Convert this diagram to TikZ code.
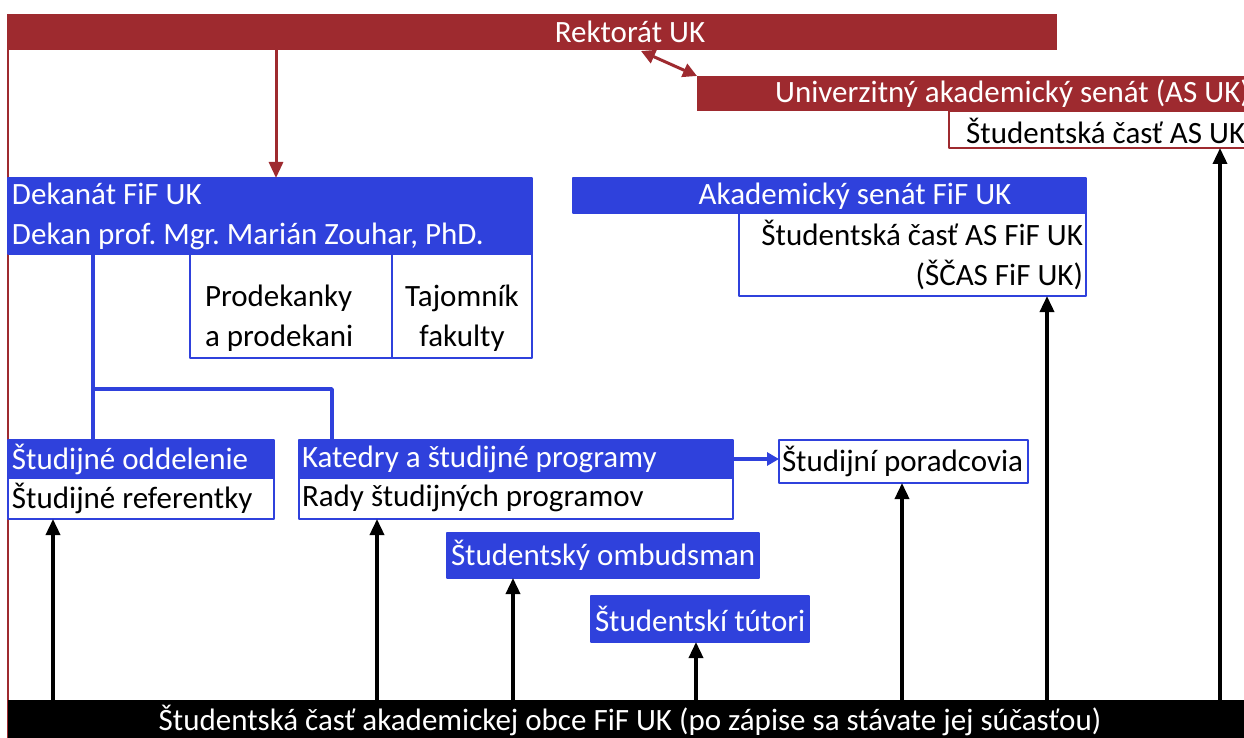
\documentclass[tikz,border=0pt]{standalone}
\usepackage{fontspec}
\setmainfont{Carlito}
\usetikzlibrary{arrows.meta}
\definecolor{ukred}{RGB}{158,42,47}
\definecolor{fifblue}{RGB}{47,65,220}
\newcommand\orgfont{\fontsize{31}{40}\selectfont\frenchspacing}
\tikzset{
	box/.style={anchor=north west, inner xsep=4pt, inner ysep=0pt, outer sep=0pt},
	redbar/.style={box, fill=ukred, text=white},
	redframe/.style={box, draw=ukred, line width=2pt, fill=white},
	bluebar/.style={box, fill=fifblue, draw=fifblue, line width=2pt, text=white, align=flush left},
	bluebox/.style={box, fill=white, draw=fifblue, line width=2pt, align=flush left},
	bartext/.style={inner sep=0pt, text=white},
	uparrow/.style={->, line width=3.5pt, black},
	blueline/.style={line width=3.5pt, fifblue},
}
\begin{document}
\begin{tikzpicture}[x=1pt, y=-1pt, font=\orgfont, line join=round, >={Triangle[width=14pt,length=16pt]}]
	\useasboundingbox (0,0) rectangle (1244,738);
	\clip (0,0) rectangle (1244,738);
	% university level
	\draw[ukred, line width=2pt] (8,14) -- (8,745);
	\node[redbar, minimum width=1049pt, minimum height=36pt] (rekt) at (8,14) {};
	\node[bartext] (rektlbl) at (630,32) {Rektorát UK};
	\node[redbar, minimum width=600pt, minimum height=35pt] (asuk) at (697,76) {};
	\node[bartext, anchor=west] (asuklbl) at (775,94) {Univerzitný akademický senát (AS UK)};
	\node[redframe, minimum width=350pt, minimum height=37pt] (studasuk) at (949,111) {};
	\node[inner sep=0pt, anchor=west] (studasuklbl) at (966,131) {Študentská časť AS UK};
	\coordinate (rektsen) at (641,51);
	\coordinate (rektdek) at (276,50);
	\draw[ukred, line width=3pt, <->, >={Triangle[width=14pt,length=14pt]}] (rektsen) -- (asuk.north west);
	
	% faculty level
	\node[bluebar, minimum width=524pt, minimum height=76pt, text width=516pt] (dekanat) at (8,178) {Dekanát FiF UK\\Dekan prof. Mgr. Marián Zouhar, PhD.};
	\draw[ukred, line width=3pt, ->] (rektdek) -- (rektdek |- dekanat.north);
	\node[bluebox, minimum width=202pt, minimum height=104pt, inner xsep=15pt, text width=172pt, text height=52pt, text depth=52pt] (prodek) at (190,254) {Prodekanky\\a prodekani};
	\node[bluebox, minimum width=140pt, minimum height=104pt, text width=132pt, align=flush center, text height=52pt, text depth=52pt] (tajom) at (prodek.north east) {Tajomník\\fakulty};
	\node[bluebar, minimum width=513pt, minimum height=35pt] (asfif) at (573,178) {};
	\node[bartext] (asfiflbl) at (855,196) {Akademický senát FiF UK};
	\node[bluebox, minimum width=347pt, minimum height=83pt, inner xsep=3pt, text width=341pt, align=flush right] (scas) at (739,213) {Študentská časť AS FiF UK\\(ŠČAS FiF UK)};
	
	\node[bluebar, minimum width=266pt, minimum height=38pt, text width=258pt] (studodd) at (8,440) {Študijné oddelenie};
	\node[bluebox, minimum width=266pt, minimum height=41pt, text width=258pt] (studref) at (studodd.south west) {Študijné referentky};
	\node[bluebar, minimum width=434pt, minimum height=38pt, inner xsep=3pt, text width=428pt] (katedry) at (299,440) {Katedry a študijné programy};
	\node[bluebox, minimum width=434pt, minimum height=41pt, inner xsep=3pt, text width=428pt] (rady) at (katedry.south west) {Rady študijných programov};
	\node[bluebox, minimum width=249pt, minimum height=43pt, inner xsep=3pt, text width=243pt] (porad) at (779,440) {Študijní poradcovia};
	\node[bluebar, minimum width=312pt, minimum height=45pt, align=center] (ombud) at (447,533) {Študentský ombudsman};
	\node[bluebar, minimum width=212pt, minimum height=46pt, align=center] (tutori) at (591,596) {Študentskí tútori};
	
	\coordinate (deksplit) at (93,254);
	\coordinate (katin) at (332,389);
	\draw[blueline] (deksplit) -- (deksplit |- studodd.north);
	\draw[blueline] (deksplit |- katin) -- (katin) -- (katin |- katedry.north);
	\draw[blueline, ->, >={Triangle[width=13pt,length=12pt]}] (katedry.east) -- (katedry.east -| porad.west);
	
	% students
	\node[box, fill=black, minimum width=1300pt, minimum height=45pt] (obec) at (8,700) {};
	\node[bartext] (obeclbl) at (630,720) {Študentská časť akademickej obce FiF UK (po zápise sa stávate jej súčasťou)};
	\foreach \x/\t in {53/studref, 377/rady, 513/ombud, 696/tutori, 902/porad, 1047/scas, 1220/studasuk}{
		\coordinate (up\x) at (\x,700);
		\draw[uparrow] (up\x) -- (up\x |- \t.south);
	}
\end{tikzpicture}
\end{document}
